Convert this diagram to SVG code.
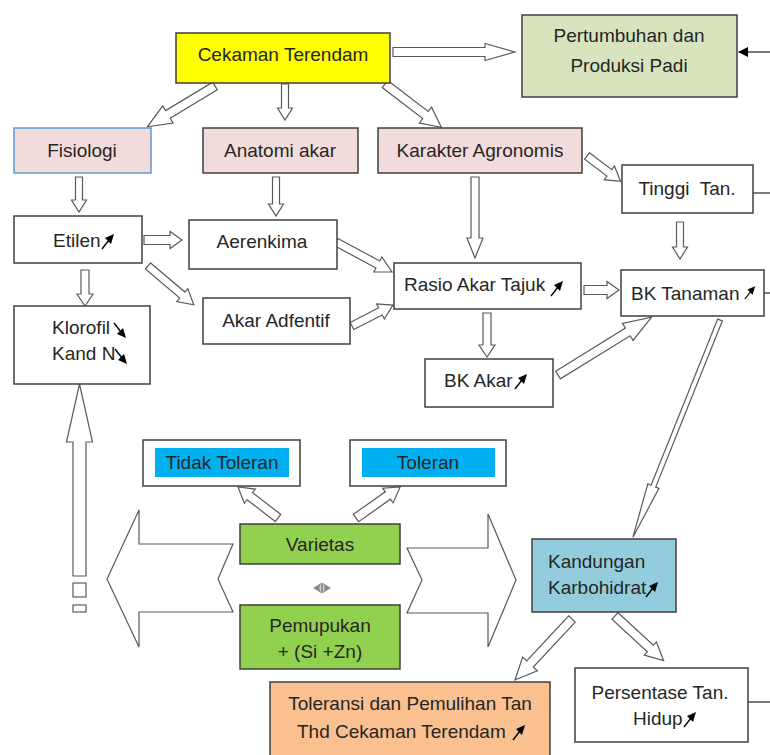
<svg xmlns="http://www.w3.org/2000/svg" xmlns:xlink="http://www.w3.org/1999/xlink" width="770" height="755" viewBox="0 0 770 755">
<defs>
<style>
.box{stroke:#3f3f3f;stroke-width:1.5}
.ar{fill:#ffffff;stroke:#5a5a5a;stroke-width:1.2;stroke-linejoin:miter}
.t{font-family:"Liberation Sans",Arial,sans-serif;font-size:19px;fill:#262626}
.c{text-anchor:middle}
.ln{stroke:#333333;stroke-width:1.3;fill:none}
</style>
<symbol id="ur" viewBox="0 0 14 16" overflow="visible">
<path d="M1,15 L8,6" stroke="#000" stroke-width="1.4" fill="none"/>
<polygon points="13,0 4,4 10,10" fill="#000"/>
</symbol>
<symbol id="dr" viewBox="0 0 14 16" overflow="visible">
<path d="M1,1 L8,10" stroke="#000" stroke-width="1.4" fill="none"/>
<polygon points="13,16 4,12 10,6" fill="#000"/>
</symbol>
<marker id="blk" markerWidth="10" markerHeight="10" refX="9" refY="5" orient="auto" markerUnits="userSpaceOnUse">
<polygon points="0,0 10,5 0,10" fill="#000"/>
</marker>
</defs>
<rect width="770" height="755" fill="#ffffff"/>

<g id="connectors">
<polygon class="ar" transform="translate(393,52)" points="0,-4.5 92,-4.5 92,-8.5 122,0 92,8.5 92,4.5 0,4.5"/>
<polygon class="ar" transform="translate(215,86) rotate(148.9)" points="0,-4.5 55,-4.5 55,-10 79,0 55,10 55,4.5 0,4.5"/>
<polygon class="ar" transform="translate(285,84) rotate(90)" points="0,-3.5 24,-3.5 24,-7.5 36,0 24,7.5 24,3.5 0,3.5"/>
<polygon class="ar" transform="translate(385,84) rotate(37.5)" points="0,-4.5 51,-4.5 51,-10 71,0 51,10 51,4.5 0,4.5"/>
<polygon class="ar" transform="translate(79,177) rotate(90)" points="0,-3.5 23,-3.5 23,-7.5 35,0 23,7.5 23,3.5 0,3.5"/>
<polygon class="ar" transform="translate(276,177) rotate(90)" points="0,-3.5 27,-3.5 27,-7.5 39,0 27,7.5 27,3.5 0,3.5"/>
<polygon class="ar" transform="translate(475,177) rotate(90)" points="0,-4 61,-4 61,-8 81,0 61,8 61,4 0,4"/>
<polygon class="ar" transform="translate(587,156) rotate(37)" points="0,-4 28,-4 28,-8.5 42,0 28,8.5 28,4 0,4"/>
<polygon class="ar" transform="translate(680,222) rotate(90)" points="0,-3.5 25,-3.5 25,-7.5 37,0 25,7.5 25,3.5 0,3.5"/>
<polygon class="ar" transform="translate(144,240)" points="0,-4.5 26,-4.5 26,-8.5 38,0 26,8.5 26,4.5 0,4.5"/>
<polygon class="ar" transform="translate(148,266) rotate(40.3)" points="0,-4 45,-4 45,-8.5 60,0 45,8.5 45,4 0,4"/>
<polygon class="ar" transform="translate(85,270) rotate(90)" points="0,-4 24,-4 24,-8 36,0 24,8 24,4 0,4"/>
<polygon class="ar" transform="translate(336,242) rotate(28.2)" points="0,-4 47.5,-4 47.5,-8.5 63.5,0 47.5,8.5 47.5,4 0,4"/>
<polygon class="ar" transform="translate(352,326) rotate(-27.1)" points="0,-4 32,-4 32,-8.5 46,0 32,8.5 32,4 0,4"/>
<polygon class="ar" transform="translate(584,290)" points="0,-4.5 23,-4.5 23,-8.5 35,0 23,8.5 23,4.5 0,4.5"/>
<polygon class="ar" transform="translate(487,313) rotate(90)" points="0,-4 32,-4 32,-8 44,0 32,8 32,4 0,4"/>
<polygon class="ar" transform="translate(558,375) rotate(-31.7)" points="0,-4.5 82,-4.5 82,-10 110,0 82,10 82,4.5 0,4.5"/>
<polygon class="ar" transform="translate(720,320) rotate(111.85)" points="0,-2.5 179,-2.5 179,-6 234,0 179,6 179,2.5 0,2.5"/>
<polygon class="ar" transform="translate(278,518) rotate(-142.2)" points="0,-4.5 35.6,-4.5 35.6,-9 50.6,0 35.6,9 35.6,4.5 0,4.5"/>
<polygon class="ar" transform="translate(356,518) rotate(-35.2)" points="0,-4.5 39,-4.5 39,-9 54,0 39,9 39,4.5 0,4.5"/>
<polygon class="ar" transform="translate(572,619) rotate(133.1)" points="0,-4.5 61.5,-4.5 61.5,-10 83.5,0 61.5,10 61.5,4.5 0,4.5"/>
<polygon class="ar" transform="translate(615,616) rotate(42.6)" points="0,-4.5 48,-4.5 48,-9 66,0 48,9 48,4.5 0,4.5"/>
<polygon class="ar" transform="translate(79.5,576) rotate(-90)" points="0,-6.5 134,-6.5 134,-13 192,0 134,13 134,6.5 0,6.5"/>
<rect class="ar" x="73" y="583" width="13" height="14"/>
<rect class="ar" x="73" y="605" width="13" height="7"/>
<polygon class="ar" points="107,579 139,510 139,544 233,544 218,579 233,612 139,612 139,647"/>
<polygon class="ar" points="407,548 488,548 488,514 516,580 488,647 488,613 407,613 422,580"/>
<line class="ln" x1="770" y1="52" x2="739" y2="52" marker-end="url(#blk)"/>
<line class="ln" x1="753" y1="193" x2="770" y2="193"/>
<line class="ln" x1="764" y1="293" x2="770" y2="293"/>
<line class="ln" x1="748" y1="702" x2="770" y2="702"/>
</g>

<g id="cekaman">
<rect class="box" x="176" y="33" width="214" height="50" fill="#ffff00"/>
<text class="t c" x="283" y="61">Cekaman Terendam</text>
</g>
<g id="pertumbuhan">
<rect class="box" x="522" y="15" width="215" height="82" fill="#d7e4bd"/>
<text class="t c" x="629" y="42">Pertumbuhan dan</text>
<text class="t c" x="629" y="72">Produksi Padi</text>
</g>
<g id="fisiologi">
<rect x="14" y="128" width="137" height="45" fill="#f2dcdb" stroke="#5b9bd5" stroke-width="1.5"/>
<text class="t c" x="82" y="157">Fisiologi</text>
</g>
<g id="anatomi">
<rect class="box" x="203" y="128" width="155" height="45" fill="#f2dcdb"/>
<text class="t c" x="280" y="157">Anatomi akar</text>
</g>
<g id="karakter">
<rect class="box" x="378" y="128" width="204" height="45" fill="#f2dcdb"/>
<text class="t c" x="480" y="157">Karakter Agronomis</text>
</g>
<g id="tinggi">
<rect class="box" x="622" y="165" width="131" height="48" fill="#ffffff"/>
<text class="t c" x="687" y="195">Tinggi&#160; Tan.</text>
</g>
<g id="etilen">
<rect class="box" x="14" y="216" width="128" height="47" fill="#ffffff"/>
<text class="t" x="53" y="247">Etilen</text>
<use xlink:href="#ur" x="101" y="234" width="14" height="16"/>
</g>
<g id="aerenkima">
<rect class="box" x="189" y="220" width="148" height="49" fill="#ffffff"/>
<text class="t c" x="262" y="248">Aerenkima</text>
</g>
<g id="adfentif">
<rect class="box" x="203" y="298" width="147" height="46" fill="#ffffff"/>
<text class="t c" x="276" y="327">Akar Adfentif</text>
</g>
<g id="klorofil">
<rect class="box" x="14" y="306" width="136" height="78" fill="#ffffff"/>
<text class="t" x="52" y="334">Klorofil</text>
<use xlink:href="#dr" x="113" y="322" width="14" height="16"/>
<text class="t" x="52" y="360">Kand N</text>
<use xlink:href="#dr" x="114" y="348" width="14" height="16"/>
</g>
<g id="rasio">
<rect class="box" x="394" y="263" width="187" height="46" fill="#ffffff"/>
<text class="t" x="404" y="291">Rasio Akar Tajuk</text>
<use xlink:href="#ur" x="550" y="281" width="14" height="16"/>
</g>
<g id="bktanaman">
<rect class="box" x="621" y="270" width="143" height="46" fill="#ffffff"/>
<text class="t" x="631" y="300">BK Tanaman</text>
<use xlink:href="#ur" x="744" y="285" width="12" height="16"/>
</g>
<g id="bkakar">
<rect class="box" x="425" y="359" width="128" height="48" fill="#ffffff"/>
<text class="t" x="444" y="387">BK Akar</text>
<use xlink:href="#ur" x="514" y="374" width="14" height="16"/>
</g>
<g id="tidaktoleran">
<rect class="box" x="143" y="440" width="157" height="46" fill="#ffffff"/>
<rect x="155" y="448" width="134" height="29" fill="#00b0f0"/>
<text class="t c" x="222" y="469">Tidak Toleran</text>
</g>
<g id="toleran">
<rect class="box" x="350" y="440" width="156" height="46" fill="#ffffff"/>
<rect x="362" y="448" width="133" height="29" fill="#00b0f0"/>
<text class="t c" x="428" y="469">Toleran</text>
</g>
<g id="varietas">
<rect class="box" x="240" y="524" width="160" height="40" fill="#92d050"/>
<text class="t c" x="320" y="551">Varietas</text>
</g>
<g id="simbol">
<polygon points="313,588 322,582.5 331,588 322,593.5" fill="#8a8a8a"/>
<ellipse cx="322" cy="588" rx="2.5" ry="4.5" fill="#d0d0d0"/>
<line x1="322" y1="584" x2="322" y2="592" stroke="#555555" stroke-width="1"/>
</g>
<g id="pemupukan">
<rect class="box" x="240" y="605" width="160" height="64" fill="#92d050"/>
<text class="t c" x="320" y="632">Pemupukan</text>
<text class="t c" x="320" y="658">+ (Si +Zn)</text>
</g>
<g id="kandungan">
<rect class="box" x="532" y="539" width="144" height="73" fill="#93cddd"/>
<text class="t" x="548" y="568">Kandungan</text>
<text class="t" x="548" y="594">Karbohidrat</text>
<use xlink:href="#ur" x="645" y="580" width="14" height="20"/>
</g>
<g id="toleransi">
<rect class="box" x="270" y="682" width="280" height="80" fill="#fac090"/>
<text class="t c" x="410" y="710">Toleransi dan Pemulihan Tan</text>
<text class="t" x="297" y="738">Thd Cekaman Terendam</text>
<use xlink:href="#ur" x="512" y="722" width="14" height="22"/>
</g>
<g id="persentase">
<rect class="box" x="575" y="668" width="173" height="74" fill="#ffffff"/>
<text class="t c" x="660" y="699">Persentase Tan.</text>
<text class="t" x="633" y="725">Hidup</text>
<use xlink:href="#ur" x="683" y="709" width="14" height="22"/>
</g>
</svg>
